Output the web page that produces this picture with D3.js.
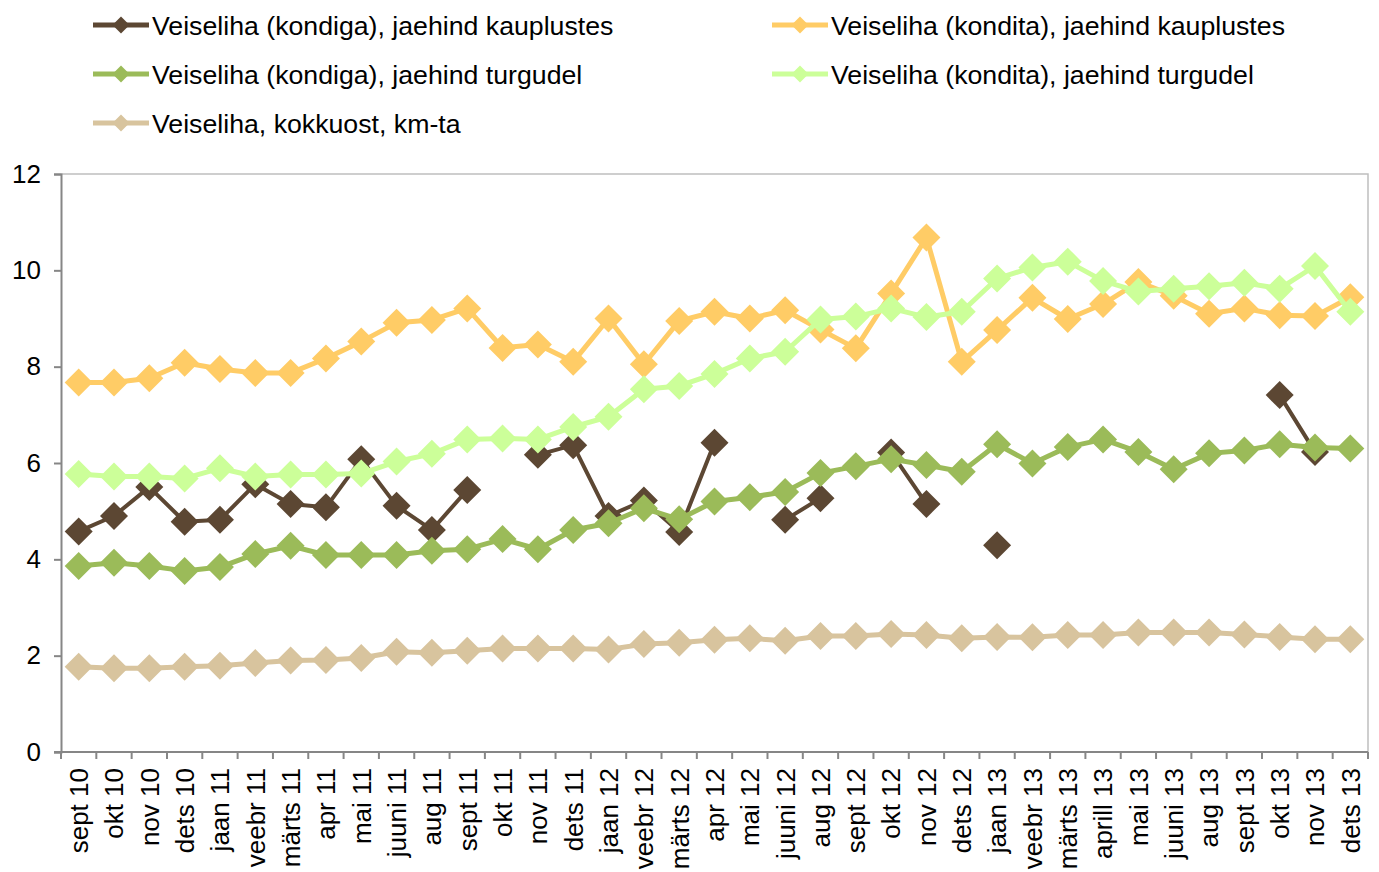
<!DOCTYPE html>
<html>
<head>
<meta charset="utf-8">
<script src="https://cdn.jsdelivr.net/npm/d3@7"></script>
<style>
  html, body { margin: 0; padding: 0; background: #ffffff; }
  svg { display: block; font-family: "Liberation Sans", Arial, sans-serif; }
</style>
</head>
<body>
<svg id="chart" width="1379" height="872"></svg>
<script>
// Kuud (x-telje kategooriad)
const months = [
  "sept 10", "okt 10", "nov 10", "dets 10",
  "jaan 11", "veebr 11", "märts 11", "apr 11", "mai 11", "juuni 11", "aug 11", "sept 11", "okt 11", "nov 11", "dets 11",
  "jaan 12", "veebr 12", "märts 12", "apr 12", "mai 12", "juuni 12", "aug 12", "sept 12", "okt 12", "nov 12", "dets 12",
  "jaan 13", "veebr 13", "märts 13", "aprill 13", "mai 13", "juuni 13", "aug 13", "sept 13", "okt 13", "nov 13", "dets 13"
];

// Hinnad, eur/kg (null = andmed puuduvad)
const kondigaKauplustes = [
  4.58, 4.9, 5.5, 4.78, 4.82, 5.56, 5.15, 5.08, 6.08, 5.11, 4.61, 5.44, null, 6.17, 6.37,
  4.9, 5.22, 4.57, 6.42, null, 4.82, 5.27, null, 6.22, 5.15, null,
  4.29, null, null, null, null, null, null, null, 7.41, 6.23, null
];
const konditaKauplustes = [
  7.67, 7.67, 7.76, 8.08, 7.95, 7.87, 7.87, 8.17, 8.52, 8.91, 8.97, 9.21, 8.39, 8.46, 8.1,
  9.0, 8.05, 8.95, 9.14, 9.0, 9.17, 8.77, 8.38, 9.52, 10.68, 8.1,
  8.76, 9.43, 8.99, 9.3, 9.76, 9.47, 9.1, 9.21, 9.07, 9.05, 9.44
];
const kondigaTurgudel = [
  3.86, 3.93, 3.86, 3.76, 3.84, 4.11, 4.28, 4.09, 4.09, 4.09, 4.18, 4.21, 4.42, 4.21, 4.61,
  4.75, 5.06, 4.83, 5.2, 5.29, 5.4, 5.79, 5.93, 6.08, 5.96, 5.82,
  6.39, 5.99, 6.33, 6.49, 6.23, 5.87, 6.2, 6.26, 6.39, 6.32, 6.3
];
const konditaTurgudel = [
  5.77, 5.72, 5.72, 5.68, 5.89, 5.72, 5.76, 5.76, 5.78, 6.03, 6.19, 6.49, 6.51, 6.49, 6.75,
  6.96, 7.53, 7.6, 7.85, 8.17, 8.31, 8.98, 9.04, 9.21, 9.03, 9.14,
  9.83, 10.06, 10.18, 9.78, 9.56, 9.62, 9.67, 9.74, 9.62, 10.09, 9.14
];
const kokkuost = [
  1.77, 1.74, 1.74, 1.77, 1.79, 1.85, 1.9, 1.91, 1.95, 2.08, 2.06, 2.1, 2.15, 2.15, 2.15,
  2.13, 2.24, 2.27, 2.33, 2.36, 2.31, 2.41, 2.41, 2.45, 2.43, 2.36,
  2.39, 2.38, 2.43, 2.43, 2.48, 2.48, 2.48, 2.44, 2.39, 2.34, 2.34
];

// Y-telje jaotised
const yTicks = [0, 2, 4, 6, 8, 10, 12];

const seriesNames = [
  "Veiseliha (kondiga), jaehind kauplustes",
  "Veiseliha (kondita), jaehind kauplustes",
  "Veiseliha (kondiga), jaehind turgudel",
  "Veiseliha (kondita), jaehind turgudel",
  "Veiseliha, kokkuost, km-ta"
];
const seriesColors = ["#5c4733", "#ffcc66", "#9bbb59", "#ccff99", "#d8c49e"];
const seriesWidths = [4, 5, 5, 5, 5];
const seriesValues = [kondigaKauplustes, konditaKauplustes, kondigaTurgudel, konditaTurgudel, kokkuost];

const svg = d3.select("#chart");
const plot = { left: 61, top: 174, right: 1368, bottom: 752 };

const x = d3.scaleBand().domain(months).range([plot.left, plot.right]);
const y = d3.scaleLinear().domain([0, 12]).range([plot.bottom, plot.top]);
const cx = m => x(m) + x.bandwidth() / 2;

// Joonise ala raam (ülemine ja parem serv)
svg.append("path")
  .attr("d", `M${plot.left},${plot.top}H${plot.right}V${plot.bottom}`)
  .attr("fill", "none")
  .attr("stroke", "#bfbfbf")
  .attr("stroke-width", 1.5);

// Y-telg
const yAxis = svg.append("g")
  .attr("transform", `translate(${plot.left},0)`)
  .call(d3.axisLeft(y).tickValues(yTicks).tickSize(7).tickPadding(13).tickFormat(d3.format("d")));
yAxis.select(".domain").attr("stroke", "#868686").attr("stroke-width", 2);
yAxis.selectAll(".tick line").attr("stroke", "#868686").attr("stroke-width", 2);
yAxis.selectAll(".tick text")
  .attr("font-size", 26)
  .attr("font-family", "Liberation Sans, Arial, sans-serif")
  .attr("fill", "#000");

// X-telg: jaotised kategooriate piiridel
const xAxis = svg.append("g")
  .attr("transform", `translate(0,${plot.bottom})`);
xAxis.append("line")
  .attr("x1", plot.left - 7).attr("x2", plot.right)
  .attr("stroke", "#868686").attr("stroke-width", 2);
const boundaries = months.map(m => x(m)).concat([plot.right]);
xAxis.selectAll("line.tick")
  .data(boundaries)
  .join("line")
  .attr("class", "tick")
  .attr("x1", d => d).attr("x2", d => d)
  .attr("y1", 0).attr("y2", 7)
  .attr("stroke", "#868686").attr("stroke-width", 2);
xAxis.selectAll("text")
  .data(months)
  .join("text")
  .attr("transform", d => `translate(${cx(d)},16) rotate(-90)`)
  .attr("dy", "0.36em")
  .attr("text-anchor", "end")
  .attr("font-size", 26)
  .attr("fill", "#000")
  .text(d => d);

// Rombikujuline marker
const diamond = r => `M0,${-r}L${r},0L0,${r}L${-r},0Z`;

// Seeriad: joon ja markerid
seriesValues.forEach((vals, i) => {
  const pts = months.map((m, j) => ({ m, v: vals[j] }));
  const line = d3.line()
    .defined(d => d.v !== null)
    .x(d => cx(d.m))
    .y(d => y(d.v));
  const g = svg.append("g");
  g.append("path")
    .datum(pts)
    .attr("d", line)
    .attr("fill", "none")
    .attr("stroke", seriesColors[i])
    .attr("stroke-width", seriesWidths[i])
    .attr("stroke-linejoin", "round");
  g.selectAll("path.mk")
    .data(pts.filter(d => d.v !== null))
    .join("path")
    .attr("class", "mk")
    .attr("d", diamond(14))
    .attr("transform", d => `translate(${cx(d.m)},${y(d.v)})`)
    .attr("fill", seriesColors[i]);
});

// Legend
const legendPos = [
  { x: 93, y: 25 }, { x: 772, y: 25 },
  { x: 93, y: 74 }, { x: 772, y: 74 },
  { x: 93, y: 123 }
];
const legend = svg.append("g");
seriesNames.forEach((name, i) => {
  const p = legendPos[i];
  const g = legend.append("g").attr("transform", `translate(${p.x},${p.y})`);
  g.append("line")
    .attr("x1", 0).attr("x2", 56)
    .attr("stroke", seriesColors[i])
    .attr("stroke-width", 5);
  g.append("path")
    .attr("d", diamond(8.5))
    .attr("transform", "translate(28,0)")
    .attr("fill", seriesColors[i]);
  g.append("text")
    .attr("x", 59)
    .attr("dy", "0.36em")
    .attr("font-size", 26.7)
    .attr("fill", "#000")
    .text(name);
});
</script>
</body>
</html>
